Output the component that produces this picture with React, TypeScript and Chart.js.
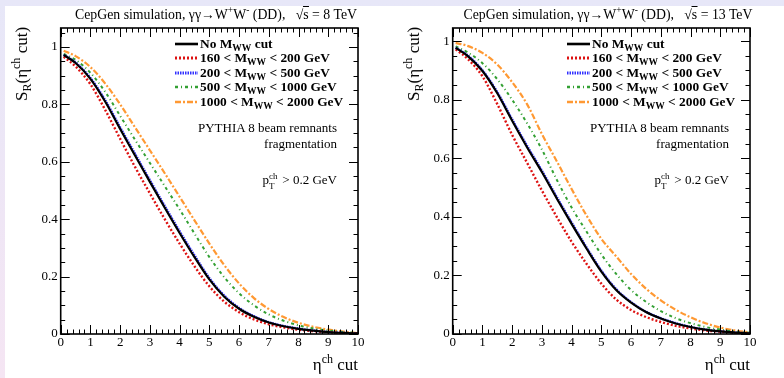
import React, { useEffect, useRef } from "react";
import { Chart, registerables } from "chart.js";

Chart.register(...registerables);

// η^ch cut values
const ETA = [0.1, 0.5, 1, 1.5, 2, 2.5, 3, 3.5, 4, 4.5, 5, 5.5, 6, 6.5, 7, 7.5, 8, 8.5, 9, 9.5, 10];

// √s = 8 TeV
const S8_NOCUT = [0.972, 0.944, 0.889, 0.809, 0.714, 0.622, 0.53, 0.44, 0.352, 0.268, 0.19, 0.13, 0.088, 0.06, 0.04, 0.027, 0.018, 0.012, 0.007, 0.004, 0.002];
const S8_M160_200 = [0.966, 0.932, 0.87, 0.78, 0.68, 0.582, 0.49, 0.4, 0.315, 0.236, 0.166, 0.113, 0.076, 0.051, 0.034, 0.023, 0.015, 0.01, 0.006, 0.003, 0.002];
const S8_M200_500 = [0.973, 0.946, 0.892, 0.814, 0.72, 0.628, 0.536, 0.446, 0.358, 0.274, 0.195, 0.134, 0.091, 0.062, 0.041, 0.028, 0.019, 0.012, 0.007, 0.004, 0.002];
const S8_M500_1000 = [0.976, 0.955, 0.91, 0.843, 0.76, 0.677, 0.596, 0.515, 0.434, 0.35, 0.268, 0.198, 0.142, 0.1, 0.068, 0.046, 0.03, 0.019, 0.012, 0.007, 0.003];
const S8_M1000_2000 = [0.987, 0.968, 0.93, 0.872, 0.8, 0.72, 0.64, 0.56, 0.478, 0.396, 0.315, 0.24, 0.176, 0.125, 0.087, 0.059, 0.039, 0.025, 0.015, 0.008, 0.003];

// √s = 13 TeV
const S13_NOCUT = [0.977, 0.95, 0.898, 0.822, 0.728, 0.638, 0.553, 0.463, 0.376, 0.292, 0.213, 0.15, 0.107, 0.075, 0.053, 0.036, 0.024, 0.015, 0.009, 0.005, 0.002];
const S13_M160_200 = [0.972, 0.94, 0.88, 0.785, 0.68, 0.585, 0.49, 0.4, 0.315, 0.24, 0.172, 0.118, 0.082, 0.058, 0.041, 0.028, 0.019, 0.012, 0.008, 0.004, 0.002];
const S13_M200_500 = [0.978, 0.952, 0.901, 0.826, 0.733, 0.643, 0.558, 0.468, 0.381, 0.296, 0.217, 0.153, 0.109, 0.076, 0.054, 0.037, 0.024, 0.015, 0.009, 0.005, 0.002];
const S13_M500_1000 = [0.982, 0.962, 0.925, 0.87, 0.8, 0.72, 0.63, 0.527, 0.432, 0.35, 0.272, 0.205, 0.15, 0.11, 0.078, 0.054, 0.037, 0.024, 0.015, 0.008, 0.004];
const S13_M1000_2000 = [0.994, 0.984, 0.96, 0.92, 0.86, 0.785, 0.683, 0.59, 0.495, 0.405, 0.325, 0.265, 0.205, 0.155, 0.115, 0.083, 0.057, 0.037, 0.022, 0.012, 0.005];

const X_TICKS_MAJOR = 1;
const Y_TICKS_MAJOR = 0.2;

const FONT = "'Liberation Serif', 'DejaVu Serif', serif";

type Style = { color: string; dash: number[]; width: number };
const STYLES: Style[] = [
  { color: "#000000", dash: [], width: 2.2 },
  { color: "#dd1111", dash: [2, 2], width: 2.4 },
  { color: "#3030ff", dash: [1.5, 1], width: 2.4 },
  { color: "#33a033", dash: [3, 3, 1, 3], width: 2 },
  { color: "#ff9933", dash: [6, 2, 2, 2], width: 2.2 },
];

const LEGEND_LABELS: [string, string, string][] = [
  ["No M", "WW", " cut"],
  ["160 < M", "WW", " < 200 GeV"],
  ["200 < M", "WW", " < 500 GeV"],
  ["500 < M", "WW", " < 1000 GeV"],
  ["1000 < M", "WW", " < 2000 GeV"],
];

const frameTicks = {
  id: "frameTicks",
  afterDatasetsDraw(chart: any) {
    const { ctx, chartArea: a, scales } = chart;
    const x = scales.x;
    const y = scales.y;
    ctx.save();
    ctx.strokeStyle = "#000";
    ctx.lineWidth = 1;
    ctx.beginPath();
    for (let i = 0; i <= 50; i++) {
      const v = i * 0.2;
      const px = Math.round(x.getPixelForValue(v)) + 0.5;
      const len = i % 5 === 0 ? 9 : 4.5;
      ctx.moveTo(px, a.bottom);
      ctx.lineTo(px, a.bottom - len);
      ctx.moveTo(px, a.top);
      ctx.lineTo(px, a.top + len);
    }
    for (let i = 0; i * 0.05 <= y.max + 1e-9; i++) {
      const v = i * 0.05;
      const py = Math.round(y.getPixelForValue(v)) + 0.5;
      const len = i % 4 === 0 ? 9 : 4.5;
      ctx.moveTo(a.left, py);
      ctx.lineTo(a.left + len, py);
      ctx.moveTo(a.right, py);
      ctx.lineTo(a.right - len, py);
    }
    ctx.stroke();
    ctx.lineWidth = 1.6;
    ctx.strokeRect(a.left, a.top, a.right - a.left, a.bottom - a.top);
    ctx.restore();
  },
};

function Panel({ series, ymax }: { series: number[][]; ymax: number }) {
  const ref = useRef<HTMLCanvasElement | null>(null);
  useEffect(() => {
    if (!ref.current) return;
    const datasets = series.map((s, i) => ({
      data: ETA.map((e, j) => ({ x: e, y: s[j] })),
      borderColor: STYLES[i].color,
      borderDash: STYLES[i].dash,
      borderWidth: STYLES[i].width,
      pointRadius: 0,
      fill: false,
      cubicInterpolationMode: "monotone" as const,
      borderCapStyle: "butt" as const,
    }));
    const chart = new Chart(ref.current, {
      type: "line",
      data: { datasets },
      options: {
        animation: false,
        responsive: false,
        layout: { padding: { top: 28, right: 34, left: 0, bottom: 0 } },
        plugins: { legend: { display: false }, tooltip: { enabled: false }, title: { display: false } },
        scales: {
          x: {
            type: "linear",
            min: 0,
            max: 10,
            grid: { display: false, drawTicks: false },
            border: { display: false },
            ticks: {
              stepSize: X_TICKS_MAJOR,
              color: "#000",
              font: { family: FONT, size: 13 },
              padding: 1,
              maxRotation: 0,
              autoSkip: false,
              includeBounds: false,
            },
            afterFit(s: any) {
              s.height = 44;
            },
          },
          y: {
            type: "linear",
            min: 0,
            max: ymax,
            grid: { display: false, drawTicks: false },
            border: { display: false },
            ticks: {
              stepSize: Y_TICKS_MAJOR,
              color: "#000",
              font: { family: FONT, size: 13 },
              padding: 3,
              includeBounds: false,
              callback: (v: any) => String(Math.round(Number(v) * 100) / 100),
            },
            afterFit(s: any) {
              s.width = 60.7;
            },
          },
        },
      },
      plugins: [frameTicks],
    });
    return () => chart.destroy();
  }, [series, ymax]);
  return <canvas ref={ref} width={392} height={378} style={{ position: "absolute", left: 0, top: 0, width: 392, height: 378 }} />;
}

function Legend() {
  return (
    <div style={{ position: "absolute", left: 0, top: 0 }}>
      {LEGEND_LABELS.map((l, i) => {
        const cy = 44 + i * 14.4;
        const st = STYLES[i];
        return (
          <React.Fragment key={i}>
            <svg style={{ position: "absolute", left: 175, top: cy - 3 }} width={23} height={6}>
              <line x1={0} y1={3} x2={23} y2={3} stroke={st.color} strokeWidth={st.width + 0.4} strokeDasharray={st.dash.length ? st.dash.join(" ") : undefined} />
            </svg>
            <div
              style={{
                position: "absolute",
                left: 200,
                top: cy - 9,
                height: 18,
                lineHeight: "18px",
                whiteSpace: "nowrap",
                fontFamily: FONT,
                fontWeight: "bold",
                fontSize: 13.4,
                color: "#000",
              }}
            >
              {l[0]}
              <sub style={{ fontSize: 9.5, verticalAlign: "-3px", lineHeight: 0 }}>{l[1]}</sub>
              {l[2]}
            </div>
          </React.Fragment>
        );
      })}
    </div>
  );
}

function Texts({ energy }: { energy: string }) {
  const base: React.CSSProperties = { position: "absolute", fontFamily: FONT, color: "#000", whiteSpace: "nowrap" };
  return (
    <>
      <div style={{ ...base, left: 216, top: 15, transform: "translate(-50%,-50%)", fontSize: 13.8, lineHeight: "18px" }}>
        CepGen simulation, γγ→W<sup style={{ fontSize: 9.5, lineHeight: 0 }}>+</sup>W<sup style={{ fontSize: 9.5, lineHeight: 0 }}>-</sup> (DD),&nbsp;&nbsp;
        √<span style={{ borderTop: "1px solid #000" }}>s</span> = {energy} TeV
      </div>
      <div
        style={{
          ...base,
          left: 22,
          top: 64,
          transform: "translate(-50%,-50%) rotate(-90deg)",
          fontSize: 17,
          lineHeight: "20px",
        }}
      >
        S<sub style={{ fontSize: 12, lineHeight: 0 }}>R</sub>(η<sup style={{ fontSize: 12, lineHeight: 0 }}>ch</sup> cut)
      </div>
      <div style={{ ...base, right: 392 - 358, top: 355, fontSize: 17, lineHeight: "20px", textAlign: "right" }}>
        η<sup style={{ fontSize: 12, lineHeight: 0 }}>ch</sup> cut
      </div>
      <div style={{ ...base, right: 392 - 337, top: 120, fontSize: 13, lineHeight: "16px", textAlign: "right" }}>
        PYTHIA 8 beam remnants
        <br />
        fragmentation
      </div>
      <div style={{ ...base, right: 392 - 337, top: 172, fontSize: 13, lineHeight: "16px", textAlign: "right" }}>
        p
        <span style={{ display: "inline-block", position: "relative", width: 10, height: 10 }}>
          <span style={{ position: "absolute", left: 0, top: -6, fontSize: 9 }}>ch</span>
          <span style={{ position: "absolute", left: 0, top: 4, fontSize: 9 }}>T</span>
        </span>
        &nbsp;&gt; 0.2 GeV
      </div>
    </>
  );
}

function PanelBox({ left, series, ymax, energy }: { left: number; series: number[][]; ymax: number; energy: string }) {
  return (
    <div style={{ position: "absolute", left, top: 0, width: 392, height: 378 }}>
      <Panel series={series} ymax={ymax} />
      <Legend />
      <Texts energy={energy} />
    </div>
  );
}

const SERIES8 = [S8_NOCUT, S8_M160_200, S8_M200_500, S8_M500_1000, S8_M1000_2000];
const SERIES13 = [S13_NOCUT, S13_M160_200, S13_M200_500, S13_M500_1000, S13_M1000_2000];

export default function App() {
  return (
    <div
      style={{
        position: "fixed",
        left: 0,
        top: 0,
        width: 784,
        height: 378,
        overflow: "hidden",
        background: "linear-gradient(to bottom, #e7e7f8, #f5e5f3)",
      }}
    >
      <div style={{ position: "absolute", left: 5, top: 6, right: 0, bottom: 0, background: "#fff" }} />
      <PanelBox left={0} series={SERIES8} ymax={1.066} energy="8" />
      <PanelBox left={392} series={SERIES13} ymax={1.045} energy="13" />
    </div>
  );
}
